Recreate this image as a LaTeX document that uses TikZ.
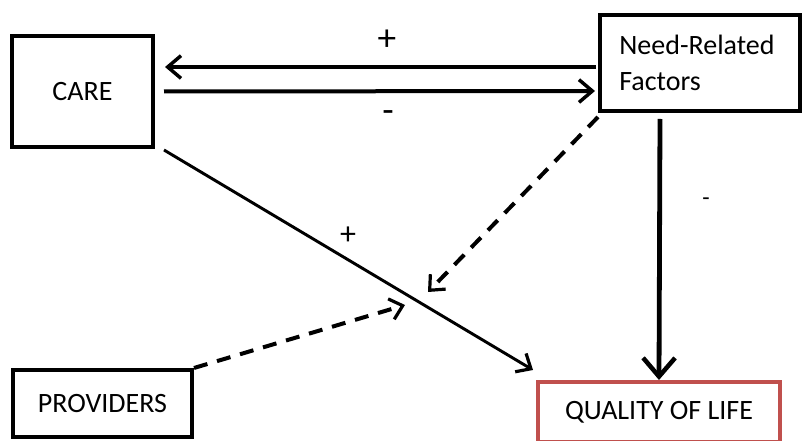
\documentclass[tikz,border=0pt]{standalone}
\usepackage{fontspec}
\setmainfont{Carlito}
\usepackage{xcolor}
\usetikzlibrary{arrows.meta, calc}
\definecolor{qolred}{RGB}{192,80,77}
\tikzset{
  box/.style={rectangle, draw, line width=3pt, fill=white, inner sep=0pt,
              font=\fontsize{21}{25}\selectfont},
  arrow/.style={-{Straight Barb[length=10pt, width=17pt, line width=2.6pt]}, line width=3pt},
  link/.style={-{Straight Barb[length=9pt, width=16pt, line width=2.4pt]}, line width=2.2pt},
  dashlink/.style={-{Straight Barb[length=9pt, width=16pt, line width=2.4pt]}, line width=3pt,
                   dash pattern=on 10.5pt off 7.5pt},
  sign/.style={font=\fontsize{28}{30}\selectfont, inner sep=0pt}
}
\begin{document}
\begin{tikzpicture}[x=0.75pt, y=-0.75pt]
  \clip (0,0) rectangle (804,441);
  \fill[white] (0,0) rectangle (804,441);

  \node[box, minimum width=105.75pt, minimum height=83.25pt] (care) at (82.5,91.5) {CARE};

  \node[box, minimum width=150pt, minimum height=72pt, text width=121pt,
        align=left, font=\fontsize{21}{27}\selectfont] (need) at (700,63)
    {Need-Related\\Factors};

  \node[box, minimum width=134.25pt, minimum height=50.25pt] (prov) at (102.5,403.5) {PROVIDERS};

  \node[box, draw=qolred, minimum width=181.5pt, minimum height=45pt] (qol) at (659,412)
    {QUALITY OF LIFE};

  % crossing points on the care line
  \coordinate (hitneed) at (428,292);
  \coordinate (hitprov) at (405,305);

  \draw[arrow] ($(need.west)+(-2,4)$) -- ($(care.east)+(10,-24.5)$);
  \draw[arrow] ($(care.east)+(9,0)$) -- ($(need.west)+(-3,28)$);
  \draw[link] ($(care.south east)+(9,1)$) -- ($(qol.north west)+(-3,-10)$);
  \draw[dashlink] ($(need.south west)+(0,4)$) -- (hitneed);
  \draw[dashlink] (prov.north east) -- (hitprov);
  \draw[-{Straight Barb[length=14pt, width=24pt, line width=3.4pt]}, line width=3.6pt]
    ($(need.south)+(-40,6)$) -- (qol.north);

  \node[sign] (p1) at (387,40) {+};
  \node[sign] (m1) at (388,117) {-};
  \node[sign, font=\fontsize{24}{26}\selectfont] (p2) at (348,236) {+};
  \node[sign, font=\fontsize{18}{20}\selectfont] (m2) at (706,202) {-};
\end{tikzpicture}
\end{document}
